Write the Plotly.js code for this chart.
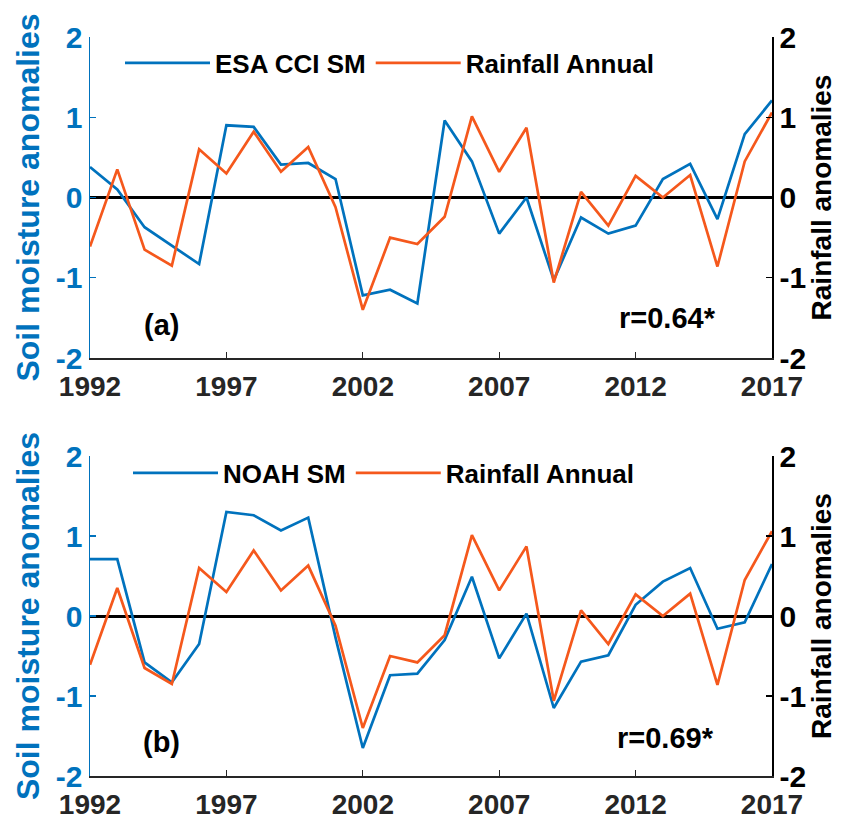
<!DOCTYPE html>
<html>
<head>
<meta charset="utf-8">
<script src="https://cdn.plot.ly/plotly-3.0.1.min.js"></script>
<style>html,body{margin:0;padding:0;background:#fff;}#chart{width:844px;height:823px;}</style>
</head>
<body>
<div id="chart"></div>
<script>
// Data
const years = [1992,1993,1994,1995,1996,1997,1998,1999,2000,2001,2002,2003,2004,2005,2006,2007,2008,2009,2010,2011,2012,2013,2014,2015,2016,2017];
const esaSM = [0.38,0.10,-0.37,-0.60,-0.83,0.90,0.88,0.41,0.43,0.23,-1.22,-1.15,-1.32,0.96,0.45,-0.45,0.00,-1.03,-0.25,-0.45,-0.35,0.23,0.42,-0.27,0.79,1.21];
const noahSM = [0.71,0.71,-0.58,-0.83,-0.35,1.30,1.26,1.07,1.23,-0.27,-1.65,-0.74,-0.72,-0.30,0.49,-0.53,0.03,-1.15,-0.57,-0.49,0.14,0.43,0.60,-0.16,-0.08,0.65];
const rainfall = [-0.61,0.35,-0.65,-0.85,0.60,0.30,0.82,0.32,0.63,-0.12,-1.40,-0.50,-0.58,-0.24,1.01,0.32,0.87,-1.06,0.07,-0.35,0.27,0.00,0.28,-0.86,0.45,1.06];
const xTicks = [1992,1997,2002,2007,2012,2017];
const yTicks = [-2,-1,0,1,2];
const yTickText = ["-2","-1","0","1","2"];
const panelLabels = ["(a)","(b)"];
const corrLabels = ["r=0.64*","r=0.69*"];

const BLUE = "#0072BD";
const ORANGE = "#F5581C";
const FONT = "Liberation Sans, Arial, sans-serif";
const W = 844, H = 823;
const px = v => v / W;
const py = v => (H - v) / H;

const traces = [
  {x: years, y: esaSM, type: "scatter", mode: "lines", name: "ESA CCI SM",
   line: {color: BLUE, width: 2.7}, xaxis: "x", yaxis: "y", legend: "legend"},
  {x: years, y: rainfall, type: "scatter", mode: "lines", name: "Rainfall Annual",
   line: {color: ORANGE, width: 2.7}, xaxis: "x", yaxis: "y2", legend: "legend"},
  {x: years, y: noahSM, type: "scatter", mode: "lines", name: "NOAH SM",
   line: {color: BLUE, width: 2.7}, xaxis: "x2", yaxis: "y3", legend: "legend2"},
  {x: years, y: rainfall, type: "scatter", mode: "lines", name: "Rainfall Annual",
   line: {color: ORANGE, width: 2.7}, xaxis: "x2", yaxis: "y4", legend: "legend2"}
];

function xAxis(anchor) {
  return {
    domain: [px(90), px(772)], anchor: anchor, range: [1992, 2017],
    tickvals: xTicks, ticktext: xTicks.map(String), ticks: "inside", ticklen: 6, tickwidth: 1.2,
    tickcolor: "#262626", showline: true, linecolor: "#262626", linewidth: 1.5,
    showgrid: false, zeroline: false, mirror: false, ticklabelstandoff: 3,
    tickfont: {family: FONT, size: 28, color: "#262626", weight: "bold"},
    automargin: false
  };
}
function yLeft(dom, anchor, zw) {
  return {
    domain: dom, anchor: anchor, range: [-2, 2], tickvals: yTicks, ticktext: yTickText,
    ticks: "inside", ticklen: 6, tickwidth: 1.2, tickcolor: BLUE,
    showline: true, linecolor: BLUE, linewidth: 1.5, showgrid: false,
    zeroline: true, zerolinecolor: "#000", zerolinewidth: zw,
    tickfont: {family: FONT, size: 30, color: BLUE, weight: "bold"},
    title: {text: "Soil moisture anomalies", standoff: 6,
            font: {family: FONT, size: 32, color: BLUE, weight: "bold"}},
    automargin: false
  };
}
function yRight(overlay, anchor) {
  return {
    overlaying: overlay, side: "right", anchor: anchor, range: [-2, 2], tickvals: yTicks, ticktext: yTickText,
    ticks: "inside", ticklen: 6, tickwidth: 1.2, tickcolor: "#000",
    showline: true, linecolor: "#000", linewidth: 1.5, showgrid: false, zeroline: false,
    tickfont: {family: FONT, size: 30, color: "#000", weight: "bold"},
    title: {text: "Rainfall anomalies", standoff: 6,
            font: {family: FONT, size: 28, color: "#000", weight: "bold"}},
    automargin: false
  };
}

const topDom = [py(358), py(37)];
const botDom = [py(776), py(456)];

const layout = {
  width: W, height: H,
  margin: {l: 0, r: 0, t: 0, b: 0},
  paper_bgcolor: "#fff", plot_bgcolor: "#fff",
  showlegend: true,
  xaxis: xAxis("y"),
  yaxis: yLeft(topDom, "x", 2.5),
  yaxis2: yRight("y", "x"),
  xaxis2: xAxis("y3"),
  yaxis3: yLeft(botDom, "x2", 3),
  yaxis4: yRight("y3", "x2"),
  legend: {x: px(120), y: py(63), xanchor: "left", yanchor: "middle", orientation: "h",
           bgcolor: "rgba(0,0,0,0)", borderwidth: 0, itemwidth: 85,
           font: {family: FONT, size: 26, color: "#000", weight: "bold"}},
  legend2: {x: px(128), y: py(473), xanchor: "left", yanchor: "middle", orientation: "h",
           bgcolor: "rgba(0,0,0,0)", borderwidth: 0, itemwidth: 85,
           font: {family: FONT, size: 26, color: "#000", weight: "bold"}},
  annotations: [
    {text: panelLabels[0], x: px(161), y: py(325), xref: "paper", yref: "paper", showarrow: false,
     xanchor: "center", yanchor: "middle", font: {family: FONT, size: 29, color: "#000", weight: "bold"}},
    {text: corrLabels[0], x: px(667), y: py(318), xref: "paper", yref: "paper", showarrow: false,
     xanchor: "center", yanchor: "middle", font: {family: FONT, size: 29, color: "#000", weight: "bold"}},
    {text: panelLabels[1], x: px(161), y: py(742), xref: "paper", yref: "paper", showarrow: false,
     xanchor: "center", yanchor: "middle", font: {family: FONT, size: 29, color: "#000", weight: "bold"}},
    {text: corrLabels[1], x: px(665), y: py(738), xref: "paper", yref: "paper", showarrow: false,
     xanchor: "center", yanchor: "middle", font: {family: FONT, size: 29, color: "#000", weight: "bold"}}
  ]
};

Plotly.newPlot("chart", traces, layout, {displayModeBar: false, staticPlot: true});
</script>
</body>
</html>
